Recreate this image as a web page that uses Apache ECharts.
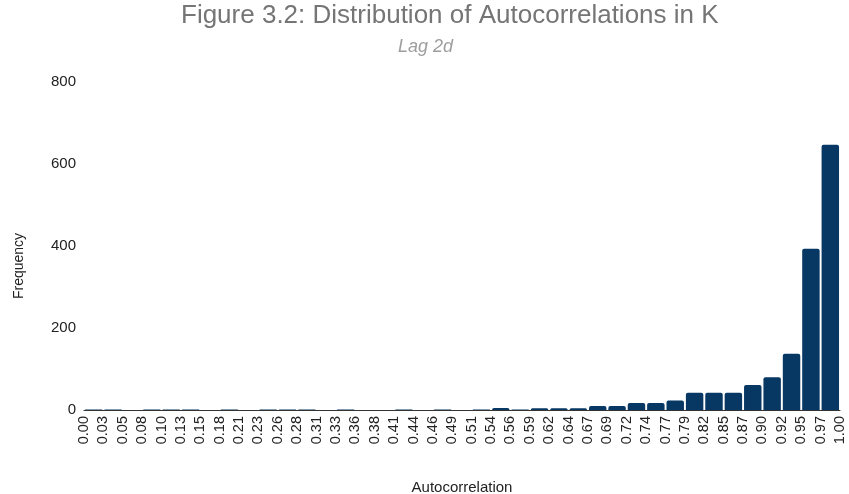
<!DOCTYPE html>
<html>
<head>
<meta charset="utf-8">
<script src="https://cdn.jsdelivr.net/npm/echarts@6/dist/echarts.min.js"></script>
<style>html,body{margin:0;padding:0;background:#fff}#c{width:849px;height:494px}</style>
</head>
<body>
<div id="c"></div>
<script>
// Bin boundary labels (40) and bin counts (39 bins)
var tickLabels = ["0.00","0.03","0.05","0.08","0.10","0.13","0.15","0.18","0.21","0.23","0.26","0.28","0.31","0.33","0.36","0.38","0.41","0.44","0.46","0.49","0.51","0.54","0.56","0.59","0.62","0.64","0.67","0.69","0.72","0.74","0.77","0.79","0.82","0.85","0.87","0.90","0.92","0.95","0.97","1.00"];
var binNames = tickLabels.slice(0, 39).map(function (l, i) { return l + "-" + tickLabels[i + 1]; });
var frequency = [1,1,0,1,1,1,0,1,0,1,1,1,0,1,0,0,1,0,1,0,1,5,1,4,4,4,10,10,17,17,23,42,42,42,61,80,137,393,647];
var yTicks = [0, 200, 400, 600, 800];

var FONT = 'Arial, "Liberation Sans", sans-serif';
var chart = echarts.init(document.getElementById('c'));
chart.setOption({
  animation: false,
  textStyle: { fontFamily: FONT },
  title: [
    {
      text: 'Figure 3.2: Distribution of Autocorrelations in K',
      left: 176,
      top: -2,
      textStyle: { fontSize: 26, fontWeight: 'normal', color: '#757575', fontFamily: FONT }
    },
    {
      text: 'Lag 2d',
      left: 393,
      top: 33,
      textStyle: { fontSize: 18, fontStyle: 'italic', fontWeight: 'normal', color: '#9e9e9e', fontFamily: FONT }
    }
  ],
  grid: { left: 84, right: 9, top: 82, bottom: 84, outerBoundsMode: 'none' },
  xAxis: [
    {
      type: 'category',
      data: binNames,
      boundaryGap: true,
      axisLine: { show: true, lineStyle: { color: '#333333', width: 1 } },
      axisTick: { show: false },
      axisLabel: { show: false },
      name: 'Autocorrelation',
      nameLocation: 'middle',
      nameGap: 70,
      nameTextStyle: { fontSize: 15, color: '#222' }
    },
    {
      type: 'category',
      data: tickLabels,
      boundaryGap: false,
      position: 'bottom',
      axisLine: { show: false },
      axisTick: { show: false },
      axisLabel: { rotate: 90, fontSize: 14.5, color: '#222', margin: 6, interval: 0 }
    }
  ],
  yAxis: {
    type: 'value',
    min: yTicks[0],
    max: yTicks[yTicks.length - 1],
    interval: 200,
    splitLine: { show: false },
    axisLine: { show: false },
    axisTick: { show: false },
    axisLabel: { fontSize: 15, color: '#222', margin: 8 },
    name: 'Frequency',
    nameLocation: 'middle',
    nameGap: 58,
    nameTextStyle: { fontSize: 14, color: '#222', padding: [0, 40, 0, 0] }
  },
  series: [{
    type: 'bar',
    xAxisIndex: 0,
    data: frequency,
    barCategoryGap: '10%',
    itemStyle: { color: '#073763', borderRadius: [2, 2, 0, 0] }
  }]
});
</script>
</body>
</html>
